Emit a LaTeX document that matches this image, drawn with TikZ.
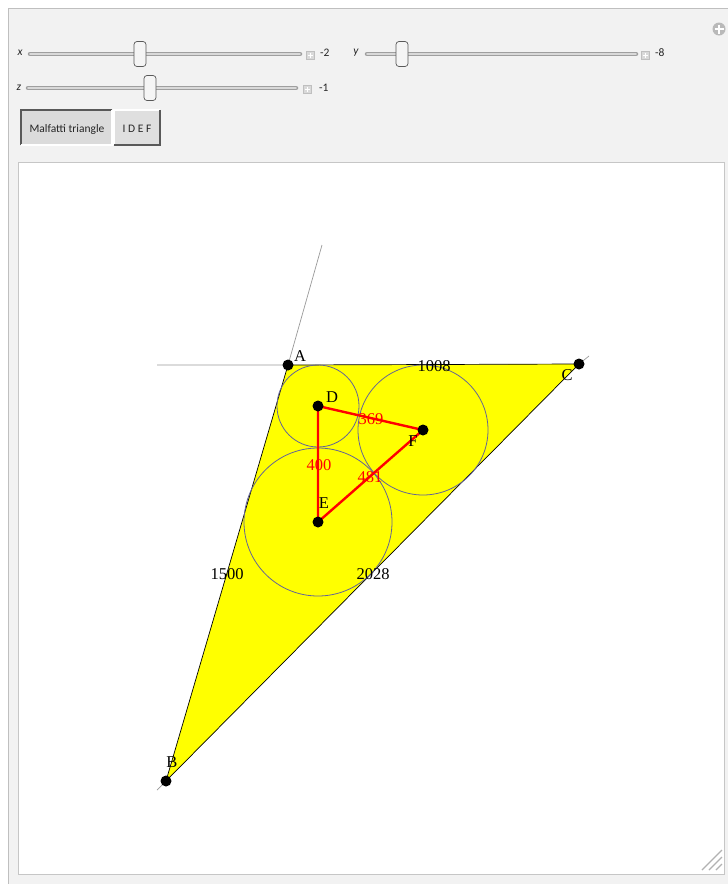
\documentclass[tikz,border=0pt]{standalone}
\usepackage{fontspec}
\setmainfont{Liberation Serif}
\newfontfamily\uifont{Carlito}
\definecolor{pureyellow}{RGB}{255,255,0}
\definecolor{circblue}{RGB}{100,100,150}
\begin{document}
\begin{tikzpicture}[x=1pt,y=-1pt,
  edge/.style={draw=black,line width=0.7pt},
  ext/.style={draw=gray!80,line width=0.7pt},
  incircle/.style={draw=circblue,line width=0.8pt},
  redseg/.style={draw=red,line width=2.4pt},
  dot/.style={circle,fill=black,inner sep=0pt,minimum size=11pt},
  ptlabel/.style={font=\fontsize{16.5}{16.5}\selectfont,inner sep=0pt},
  redlabel/.style={font=\fontsize{16.5}{16.5}\selectfont,text=red,inner sep=0pt},
  track/.style={draw=gray!75,line width=4.5pt,line cap=round},
  trackin/.style={draw=gray!30,line width=1.8pt,line cap=round},
  thumb/.style={draw=gray!70!black,fill=gray!8,rounded corners=3pt,line width=0.7pt,minimum width=12pt,minimum height=25pt,inner sep=0pt},
  uitext/.style={font=\uifont\fontsize{11.5}{11.5}\selectfont,inner sep=0pt,text=black!85},
  uiital/.style={font=\uifont\itshape\fontsize{11.5}{11.5}\selectfont,inner sep=0pt,text=black!85},
  plusbox/.style={draw=gray!50,fill=gray!30,minimum size=8pt,inner sep=0pt},
  btn/.style={draw=gray!60,fill=gray!25,line width=0.8pt}
]
\useasboundingbox (0,0) rectangle (728,884);
% panel
\fill[white] (0,0) rectangle (728,884);
\draw[fill=gray!10,draw=gray!50,line width=1pt] (8,8) rectangle (735,892);
\draw[fill=white,draw=gray!45,line width=1pt] (18,162) rectangle (724,874);
% plus icon top right
\node[circle,fill=gray!55,minimum size=13pt,inner sep=0pt] (plusicon) at (719,29) {};
\draw[white,line width=1.6pt] (714.5,29) -- (723.5,29) (719,24.5) -- (719,33.5);
% sliders
\node[uiital] (xl) at (20,53) {x};
\coordinate (x0) at (30,54); \coordinate (x1) at (300,54);
\draw[track] (x0) -- (x1); \draw[trackin] (x0) -- (x1);
\node[thumb] (xt) at (140,54) {};
\node[plusbox] (xp) at (310,55) {};
\draw[white,line width=0.8pt] (307.5,55) -- (312.5,55) (310,52.5) -- (310,57.5);
\node[uitext,anchor=west] (xv) at (320,53) {-2};
\node[uiital] (yl) at (356,53) {y};
\coordinate (y0) at (367,54); \coordinate (y1) at (636,54);
\draw[track] (y0) -- (y1); \draw[trackin] (y0) -- (y1);
\node[thumb] (yt) at (402,54) {};
\node[plusbox] (yp) at (645,55) {};
\draw[white,line width=0.8pt] (642.5,55) -- (647.5,55) (645,52.5) -- (645,57.5);
\node[uitext,anchor=west] (yv) at (655,53) {-8};
\node[uiital] (zl) at (19,88) {z};
\coordinate (z0) at (28,88); \coordinate (z1) at (296,88);
\draw[track] (z0) -- (z1); \draw[trackin] (z0) -- (z1);
\node[thumb] (zt) at (150,88) {};
\node[plusbox] (zp) at (307,89) {};
\draw[white,line width=0.8pt] (304.5,89) -- (309.5,89) (307,86.5) -- (307,91.5);
\node[uitext,anchor=west] (zv) at (319,88) {-1};
% buttons
\draw[btn,fill=gray!28] (21,110) rectangle (112,145);
\draw[gray!70!black,line width=1.2pt] (21,145) -- (21,110) -- (112,110);
\draw[white,line width=1.2pt] (21,145) -- (112,145) -- (112,110);
\node[uitext] (b1) at (67,129) {Malfatti triangle};
\draw[btn,fill=gray!25] (114,110) rectangle (160,145);
\draw[white,line width=1.2pt] (114,145) -- (114,110) -- (160,110);
\draw[gray!70!black,line width=1.2pt] (114,145) -- (160,145) -- (160,110);
\node[uitext] (b2) at (137,129) {I D E F};
% resize grip
\draw[gray!60,line width=1.2pt] (702,870) -- (722,850) (709,870) -- (722,857) (716,870) -- (722,864);
% geometry
\coordinate (A) at (288,365);
\coordinate (B) at (166,781);
\coordinate (C) at (579,364);
\coordinate (D) at (318,406);
\coordinate (E) at (318,522);
\coordinate (F) at (423,430);
\coordinate (Aext) at (157,365);
\coordinate (Aup) at (322,245);
\coordinate (Cext) at (589,356);
\coordinate (Bext) at (157,790);
\fill[pureyellow] (A) -- (B) -- (C) -- cycle;
\draw[ext] (Aext) -- (A) -- (Aup);
\draw[ext] (C) -- (Cext);
\draw[ext] (B) -- (Bext);
\draw[edge] (A) -- (B) -- (C) -- cycle;
\draw[incircle] (D) circle (41);
\draw[incircle] (E) circle (74);
\draw[incircle] (F) circle (65);
\draw[redseg] (D) -- (F) -- (E) -- cycle;
\foreach \p in {A,B,C,D,E,F} \node[dot] (dot\p) at (\p) {};
\node[ptlabel] (lA) at (300,356) {A};
\node[ptlabel] (lB) at (172,762) {B};
\node[ptlabel] (lC) at (567,375) {C};
\node[ptlabel] (lD) at (332,397) {D};
\node[ptlabel] (lE) at (324,503) {E};
\node[ptlabel] (lF) at (413,441) {F};
\node[ptlabel] (s1) at (434,366) {1008};
\node[ptlabel] (s2) at (227,574) {1500};
\node[ptlabel] (s3) at (373,574) {2028};
\node[redlabel] (r1) at (371,419) {369};
\node[redlabel] (r2) at (319,465) {400};
\node[redlabel] (r3) at (370,477) {481};
\end{tikzpicture}
\end{document}
